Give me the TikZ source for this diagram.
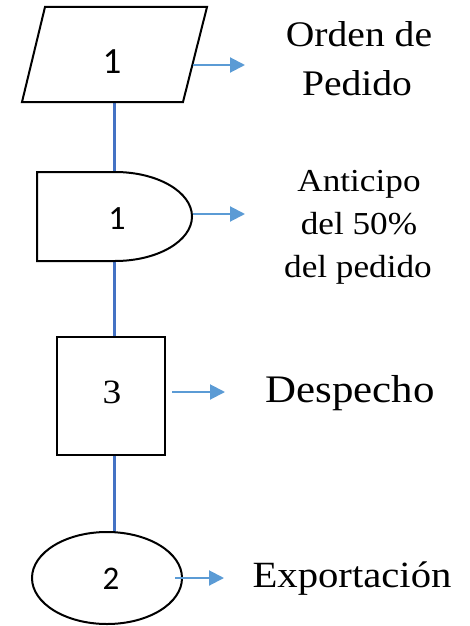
\documentclass[tikz,border=0pt]{standalone}
\usepackage{fontspec}
\setmainfont{Liberation Serif}[FakeStretch=1.1]
\newfontfamily\numfont{Carlito}
\usetikzlibrary{arrows.meta}
\definecolor{flowblue}{HTML}{4472C4}
\definecolor{arrowblue}{HTML}{5B9BD5}
\tikzset{
  outline/.style={draw=black, line width=2pt, fill=white},
  flowline/.style={draw=flowblue, line width=3pt},
  outarrow/.style={draw=arrowblue, line width=2pt, -{Triangle[length=15pt,width=15pt]}},
  numlabel/.style={inner sep=0pt, anchor=center},
  caption/.style={inner sep=0pt, anchor=base},
}
\begin{document}
\begin{tikzpicture}[x=1pt, y=-1pt]
  \useasboundingbox (0,0) rectangle (470,626);

  % vertical flow line behind the symbols
  \coordinate (p1bot) at (114,102);
  \coordinate (d1top) at (114,172);
  \coordinate (d1bot) at (114,261);
  \coordinate (r3top) at (114,337);
  \coordinate (r3bot) at (114,455);
  \coordinate (e2top) at (114,532);
  \draw[flowline] (p1bot) -- (d1top);
  \draw[flowline] (d1bot) -- (r3top);
  \draw[flowline] (r3bot) -- (e2top);

  % input/output symbol
  \draw[outline] (45,7) -- (207,7) -- (183,102) -- (22,102) -- cycle;
  \node[numlabel, font=\numfont\fontsize{37}{40}\selectfont] (n1) at (112,62) {1};

  % delay symbol
  \draw[outline] (37,172) -- (115,172)
    arc[start angle=90, end angle=-90, x radius=77pt, y radius=44.5pt]
    -- (37,261) -- cycle;
  \node[numlabel, font=\numfont\fontsize{34}{38}\selectfont] (n2) at (117,219) {1};

  % operation box
  \draw[outline] (57,337) rectangle (165,455);
  \node[numlabel, font=\fontsize{34}{38}\selectfont] (n3) at (112,392) {3};

  % terminal ellipse
  \draw[outline] (107,578) ellipse[x radius=75pt, y radius=46pt];
  \node[numlabel, font=\numfont\fontsize{33}{38}\selectfont] (n4) at (111,579) {2};

  % arrows pointing to the captions
  \coordinate (a1s) at (193,65);  \coordinate (a1e) at (245,65);
  \coordinate (a2s) at (193,214); \coordinate (a2e) at (245,214);
  \coordinate (a3s) at (172,392); \coordinate (a3e) at (225,392);
  \coordinate (a4s) at (175,578); \coordinate (a4e) at (224,578);
  \draw[outarrow] (a1s) -- (a1e);
  \draw[outarrow] (a2s) -- (a2e);
  \draw[outarrow] (a3s) -- (a3e);
  \draw[outarrow] (a4s) -- (a4e);

  % captions
  \node[caption, font=\fontsize{36}{40}\selectfont] (c1a) at (359,47) {Orden de};
  \node[caption, font=\fontsize{36}{40}\selectfont] (c1b) at (357,95) {Pedido};
  \node[caption, font=\fontsize{32}{36}\selectfont] (c2a) at (359,191) {Anticipo};
  \node[caption, font=\fontsize{32}{36}\selectfont] (c2b) at (359,234) {del 50\%};
  \node[caption, font=\fontsize{32}{36}\selectfont] (c2c) at (358,277) {del pedido};
  \node[caption, font=\fontsize{39}{42}\selectfont] (c3) at (350,402) {Despecho};
  \node[caption, font=\fontsize{37}{42}\selectfont] (c4) at (352,587) {Exportación};
\end{tikzpicture}
\end{document}
